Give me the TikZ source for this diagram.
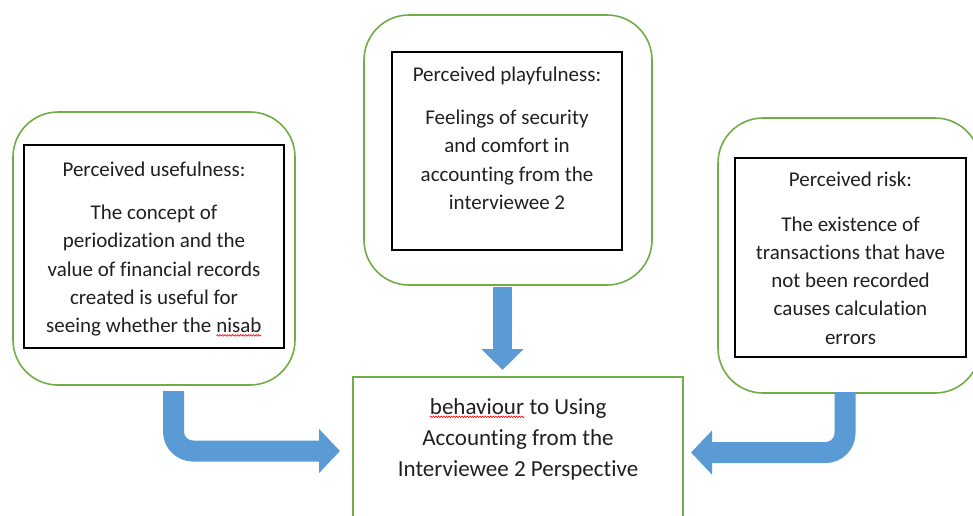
\documentclass[tikz,border=0pt]{standalone}
\usepackage{fontspec}
\setmainfont{Carlito}[Ligatures=NoCommon]
\usetikzlibrary{arrows.meta,decorations.pathmorphing}

\definecolor{boxgreen}{HTML}{70AD47}
\definecolor{arrowblue}{HTML}{5B9BD5}
\definecolor{textgray}{HTML}{202020}

% red spell-check underline
\newcommand{\spellmark}[1]{\tikz[baseline=(sw.base)]{%
  \node[inner sep=0pt, outer sep=0pt] (sw) {#1};
  \draw[red, line width=0.6pt, decorate,
    decoration={snake, amplitude=0.8pt, segment length=2.6pt}]
    ([yshift=-2.6pt]sw.base west) -- ([yshift=-2.6pt]sw.base east);}}

\begin{document}
\begin{tikzpicture}[x=1pt, y=-1pt,
  outerbox/.style={draw=boxgreen, line width=1.6pt, rounded corners=45pt, inner sep=0pt},
  innerbox/.style={draw=black, line width=1.3pt, inner sep=0pt},
  boxtext/.style={anchor=north, align=center, inner sep=0pt, text=textgray,
    font=\fontsize{21}{28.3}\selectfont},
  blockarrow/.style={arrowblue, line width=21pt, rounded corners=19.5pt,
    -{Triangle[length=21pt, width=43pt]}}]

  % page
  \useasboundingbox (0,0) rectangle (973,515);
  \clip (0,0) rectangle (973,515);

  % outer green boxes
  \node[outerbox, minimum width=282pt, minimum height=273pt] (usefulOuter) at (154,248.5) {};
  \node[outerbox, minimum width=288pt, minimum height=270pt] (playOuter) at (508,150) {};
  \node[outerbox, minimum width=262pt, minimum height=275pt] (riskOuter) at (849,255.5) {};

  % inner black boxes
  \node[innerbox, minimum width=260pt, minimum height=203pt] (useful) at (154,246.5) {};
  \node[innerbox, minimum width=230pt, minimum height=198pt] (play) at (507,151) {};
  \node[innerbox, minimum width=231pt, minimum height=199pt] (risk) at (850.5,257.5) {};

  % texts
  \node[boxtext] (usefulText) at (154,162) {Perceived usefulness:\\[14.5pt]
    The concept of\\ periodization and the\\ value of financial records\\
    created is useful for\\ seeing whether the \spellmark{nisab}};
  \node[boxtext] (playText) at (507,67) {Perceived playfulness:\\[14.5pt]
    Feelings of security\\ and comfort in\\ accounting from the\\ interviewee 2};
  \node[boxtext] (riskText) at (850.5,172) {Perceived risk:\\[16pt]
    The existence of\\ transactions that have\\ not been recorded\\
    causes calculation\\ errors};

  % target box
  \node[draw=boxgreen, line width=1.6pt, minimum width=330pt, minimum height=153pt,
    inner sep=0pt] (behav) at (518,453.5) {};
  \node[boxtext, font=\fontsize{23}{31}\selectfont] (behavText) at (518,398)
    {\spellmark{behaviour} to Using\\ Accounting from the\\ Interviewee 2 Perspective};

  % arrow ends
  \coordinate (usefulTail) at (173.5,391);
  \coordinate (usefulTip) at (340,451);
  \coordinate (playTail) at (502.5,287);
  \coordinate (playTip) at (502.5,370);
  \coordinate (riskTail) at (845,392);
  \coordinate (riskTip) at (691,452.5);

  % block arrows
  \draw[blockarrow] (usefulTail) |- (usefulTip);
  \draw[blockarrow, line width=19pt, -{Triangle[length=21pt, width=41pt]}] (playTail) -- (playTip);
  \draw[blockarrow] (riskTail) |- (riskTip);
\end{tikzpicture}
\end{document}
